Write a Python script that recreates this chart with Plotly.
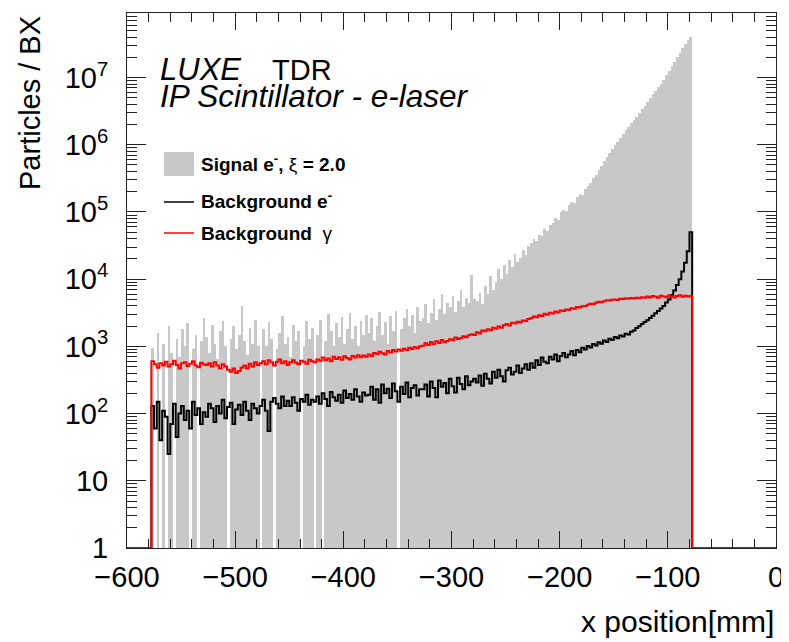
import numpy as np
import plotly.graph_objects as go

FONT = "Liberation Sans"

# ---- binning (mm) ----
bin_lo = -577.5
bin_width = 2.5
n_bins = 200

# ---- Signal e- (xi = 2.0), particles / BX per bin ----
signal_e = [
    950, 0, 1600, 0, 1100, 0, 2000, 800, 0, 1300, 700, 1800, 1000, 2200, 0, 900, 1500, 0, 1200, 2600,
    1400, 800, 2100, 1100, 650, 1700, 2400, 1000, 0, 1300, 2000, 900, 1500, 4000, 1200, 750, 1900, 1100, 2500, 1000,
    0, 1800, 1000, 2300, 1300, 0, 900, 1600, 2800, 1100, 1400, 700, 2100, 1200, 1700, 0, 1000, 2400, 1300, 1900,
    0, 1500, 2500, 0, 1200, 3000, 1700, 1000, 2200, 1400, 2700, 1100, 1800, 3100, 1300, 2000, 1000, 2400, 1500, 2900,
    1600, 2600, 1200, 2000, 3200, 1500, 2300, 1100, 2800, 1700, 3400, 0, 1800, 2600, 3600, 2000, 2900, 1600, 3800, 2400,
    2600, 4200, 2200, 3100, 5000, 2500, 3600, 6000, 3000, 4400, 3800, 5600, 3200, 4700, 6800, 3900, 5200, 4400, 11500, 5000,
    4800, 6200, 4300, 8000, 6000, 11000, 7000, 9000, 14000, 10000, 16000, 12000, 19000, 15000, 24000, 18000, 21000, 27000, 23000, 31000,
    35000, 39000, 37000, 46000, 44000, 55000, 52000, 64000, 68000, 80000, 76000, 100000, 108000, 104000, 125000, 140000, 135000, 165000, 185000, 180000,
    219000, 245000, 270000, 316000, 355000, 427000, 480000, 575000, 650000, 760000, 860000, 980000, 1110000, 1260000, 1440000, 1660000, 1850000, 2090000, 2330000, 2630000,
    2950000, 3390000, 3800000, 4370000, 4900000, 5600000, 6300000, 7200000, 8100000, 9300000, 11000000, 12600000, 14800000, 17000000, 20000000, 23400000, 27500000, 31600000, 36300000, 39800000,
]

# ---- Background e- ----
background_e = [
    130, 60, 150, 40, 110, 90, 25, 70, 140, 45, 100, 130, 80, 110, 60, 150, 95, 120, 70, 105,
    90, 140, 120, 75, 130, 100, 160, 85, 125, 145, 70, 115, 135, 95, 150, 110, 80, 140, 120, 100,
    130, 160, 110, 55, 150, 170, 140, 120, 180, 130, 155, 130, 175, 145, 110, 165, 150, 190, 135, 160,
    150, 180, 140, 200, 165, 130, 210, 175, 155, 190, 145, 220, 170, 195, 160, 230, 180, 150, 205, 185,
    190, 250, 160, 230, 145, 270, 200, 235, 170, 280, 215, 150, 250, 195, 290, 175, 240, 265, 185, 230,
    230, 270, 180, 300, 240, 175, 310, 250, 285, 200, 330, 255, 205, 340, 275, 230, 360, 265, 300, 330,
    290, 370, 260, 390, 330, 280, 420, 340, 450, 360, 300, 440, 480, 380, 420, 520, 400, 470, 540, 450,
    560, 480, 620, 530, 680, 590, 560, 700, 640, 760, 600, 720, 800, 690, 760, 850, 740, 880, 820, 950,
    900, 1010, 960, 1080, 1030, 1150, 1090, 1220, 1160, 1300, 1240, 1380, 1320, 1450, 1400, 1540, 1500, 1650, 1720, 1870,
    2000, 2150, 2300, 2450, 2650, 2850, 3100, 3350, 3650, 4000, 4500, 5000, 5800, 6800, 8200, 10000, 13000, 17500, 26000, 50000,
]

# ---- Background gamma ----
background_gamma = [
    600, 540, 480, 560, 520, 590, 500, 540, 610, 530, 470, 560, 580, 510, 550, 600, 520, 490, 570, 540,
    530, 560, 500, 580, 520, 470, 540, 500, 450, 420, 470, 400, 430, 480, 520, 470, 550, 500, 580, 530,
    560, 600, 540, 620, 580, 520, 590, 640, 560, 600, 530, 580, 620, 570, 540, 610, 590, 550, 630, 600,
    580, 640, 610, 680, 620, 660, 600, 700, 650, 690, 630, 710, 670, 640, 720, 680, 740, 690, 730, 700,
    760, 720, 800, 770, 830, 790, 760, 850, 810, 880, 840, 900, 860, 920, 880, 950, 910, 980, 940, 1000,
    1020, 1110, 1050, 1160, 1080, 1190, 1120, 1240, 1150, 1200, 1280, 1230, 1360, 1290, 1330, 1420, 1370, 1460, 1520, 1480,
    1620, 1560, 1720, 1680, 1800, 1740, 1900, 1830, 1980, 1900, 2060, 2150, 2040, 2250, 2180, 2330, 2260, 2420, 2380, 2560,
    2620, 2780, 2700, 2900, 2820, 3050, 2950, 3150, 3080, 3300, 3200, 3420, 3350, 3550, 3480, 3700, 3620, 3850, 3780, 3950,
    4000, 4150, 4300, 4250, 4450, 4600, 4550, 4700, 4850, 4800, 4950, 5000, 4900, 5100, 5050, 5200, 5100, 5250, 5150, 5300,
    5200, 5400, 5300, 5500, 5350, 5600, 5450, 5300, 5650, 5500, 5400, 5700, 5550, 5350, 5600, 5750, 5450, 5650, 5500, 5600,
]

# ---- axis ticks ----
x_range = [-600, 0]
x_tick_vals = [-600, -500, -400, -300, -200, -100, 0]
x_tick_text = ["\u2212600", "\u2212500", "\u2212400", "\u2212300", "\u2212200", "\u2212100", "0"]
y_tick_vals = [1, 10, 100, 1e3, 1e4, 1e5, 1e6, 1e7]
y_tick_text = ["1", "10", "10<sup>2</sup>", "10<sup>3</sup>", "10<sup>4</sup>",
               "10<sup>5</sup>", "10<sup>6</sup>", "10<sup>7</sup>"]
y_log_top = 7.96

edges = bin_lo + bin_width * np.arange(n_bins + 1)
centers = 0.5 * (edges[:-1] + edges[1:])


def step_trace(vals, color, name):
    xs = [x_range[0]] + list(edges[:-1]) + [edges[-1], x_range[1]]
    ys = [1] + list(vals) + [1, 1]
    return go.Scatter(x=xs, y=ys, mode="lines", line=dict(color=color, width=2, shape="hv"),
                      name=name, showlegend=False, hoverinfo="skip")


fig = go.Figure()
fig.add_trace(go.Bar(x=centers, y=[v if v > 0 else None for v in signal_e], width=bin_width,
                     marker=dict(color="#c8c8c8", line=dict(width=0)),
                     name="Signal e-", showlegend=False))
fig.add_trace(step_trace(background_e, "black", "Background e-"))
fig.add_trace(step_trace(background_gamma, "#ff0000", "Background gamma"))

AX = "#222222"
x_minor = [v for v in range(-580, 0, 20) if v % 100 != 0]
y_minor = [m * 10 ** k for k in range(0, 8) for m in range(2, 10) if np.log10(m * 10 ** k) < y_log_top]

fig.update_xaxes(range=x_range, tickmode="array", tickvals=x_tick_vals, ticktext=x_tick_text,
                 ticks="inside", ticklen=17, tickwidth=1, tickcolor=AX,
                 showline=True, linecolor=AX, linewidth=1, mirror="ticks",
                 showgrid=False, zeroline=False, ticklabelstandoff=3,
                 tickfont=dict(family=FONT, size=29, color="black"),
                 minor=dict(tickmode="array", tickvals=x_minor, ticks="inside", ticklen=9,
                            tickwidth=1, tickcolor=AX, showgrid=False))
fig.update_yaxes(type="log", range=[0, y_log_top], tickmode="array", tickvals=y_tick_vals,
                 ticktext=y_tick_text, ticks="inside", ticklen=19, tickwidth=1, tickcolor=AX,
                 showline=True, linecolor=AX, linewidth=1, mirror="ticks",
                 showgrid=False, zeroline=False, ticklabelstandoff=12,
                 tickfont=dict(family=FONT, size=29, color="black"),
                 minor=dict(tickmode="array", tickvals=y_minor, ticks="inside", ticklen=10,
                            tickwidth=1, tickcolor=AX, showgrid=False))

# ---- layout geometry: page body has an 8px margin ----
OFF = 8
W, H = 781, 634
L, R, T, B = 119, 13, 5, 94
pw, ph = W - L - R, H - T - B


def px(xp):  # window pixel -> paper x
    return (xp - OFF - L) / pw


def py(yp):  # window pixel -> paper y
    return (H - B - (yp - OFF)) / ph


annots = [
    ("<i>LUXE</i>", 158, 70, 31),
    ("TDR", 270, 70, 29),
    ("<i>IP Scintillator - e-laser</i>", 158, 96, 31.5),
    ("<b>Signal e<sup>-</sup>,</b> \u03be <b>= 2.0</b>", 199, 163, 19),
    ("<b>Background e<sup>-</sup></b>", 199, 200, 19),
    ("<b>Background</b>  \u03b3", 199, 233, 19),
]
for text, xp, yp, size in annots:
    fig.add_annotation(xref="paper", yref="paper", xanchor="left", yanchor="middle",
                       showarrow=False, text=text, x=px(xp), y=py(yp),
                       font=dict(family=FONT, color="black", size=size))

# axis titles
fig.add_annotation(xref="paper", yref="paper", x=px(30), y=py(14), xanchor="center", yanchor="top",
                   textangle=-90, showarrow=False, text="Particles / BX",
                   font=dict(family=FONT, size=29, color="black"))
fig.add_annotation(xref="paper", yref="paper", x=1.0, y=py(621), xanchor="right", yanchor="middle",
                   showarrow=False, text="x position[mm]",
                   font=dict(family=FONT, size=30, color="black"))

# legend symbols
fig.add_shape(type="rect", xref="paper", yref="paper", x0=px(164), x1=px(194), y0=py(176), y1=py(152),
              fillcolor="#c8c8c8", line=dict(width=0))
fig.add_shape(type="line", xref="paper", yref="paper", x0=px(164), x1=px(194), y0=py(202), y1=py(202),
              line=dict(color="black", width=1.5))
fig.add_shape(type="line", xref="paper", yref="paper", x0=px(164), x1=px(194), y0=py(233), y1=py(233),
              line=dict(color="#ff0000", width=1.5))

fig.update_layout(width=W, height=H, margin=dict(l=L, r=R, t=T, b=B, pad=0),
                  plot_bgcolor="white", paper_bgcolor="white", bargap=0, showlegend=False,
                  font=dict(family=FONT))

fig.write_html("out.html")
